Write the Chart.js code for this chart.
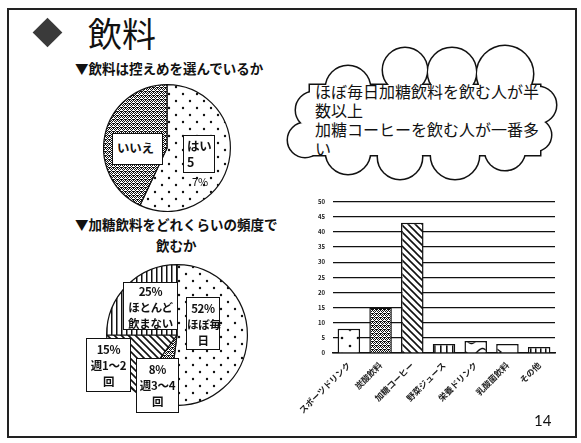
<!DOCTYPE html>
<html>
<head>
<meta charset="utf-8">
<script src="https://cdn.jsdelivr.net/npm/chart.js@4"></script>
<style>
  body { margin:0; background:#fff; }
  #slide { position:relative; width:581px; height:443px; overflow:hidden; background:#fff;
           font-family:"Noto Sans CJK JP", sans-serif; color:#111; }
  .abs { position:absolute; white-space:nowrap; }
  .box { position:absolute; background:#fff; border:1.3px solid #111; box-sizing:border-box; white-space:nowrap;
         font-weight:bold; font-size:11.5px; line-height:16px; text-align:center; letter-spacing:-0.3px; }
  canvas { position:absolute; }
</style>
</head>
<body>
<div id="slide">
  <div class="abs" style="left:7px;top:8px;width:570px;height:430px;border:2px solid #222;box-sizing:border-box;"></div>
  <div class="abs" style="left:37px;top:22px;width:21px;height:21px;background:#3a3a3a;transform:rotate(45deg);"></div>
  <div class="abs" style="left:88px;top:11px;font-size:34px;line-height:44px;">飲料</div>
  <div class="abs" style="left:75px;top:58px;font-size:13.5px;font-weight:bold;line-height:20px;">▼飲料は控えめを選んでいるか</div>
  <div class="abs" style="left:75px;top:214px;font-size:13.5px;font-weight:bold;line-height:20px;">▼加糖飲料をどれくらいの頻度で</div>
  <div class="abs" style="left:156px;top:235px;font-size:13.5px;font-weight:bold;line-height:20px;">飲むか</div>

  <svg class="abs" style="left:0;top:0" width="581" height="443">
    <g id="cloud-out" fill="#fff" stroke="#111" stroke-width="3"></g>
    <g id="cloud-in" fill="#fff"></g>
  </svg>
  <div class="abs" style="left:315px;top:82px;font-size:16px;line-height:19px;">ほぼ毎日加糖飲料を飲む人が半<br>数以上<br>加糖コーヒーを飲む人が一番多<br>い</div>

  <canvas id="pie1" width="128" height="128" style="left:103px;top:84px"></canvas>
  <canvas id="pie2" width="142" height="142" style="left:106px;top:264px"></canvas>
  <canvas id="bars" width="276" height="245" style="left:290px;top:190px"></canvas>

  <div class="box" style="left:112px;top:133px;width:51px;height:32px;line-height:28px;text-align:left;padding-left:4px;font-size:12.5px;">いいえ</div>
  <div class="box" style="left:183px;top:135px;width:32px;height:38px;text-align:left;padding-left:3px;padding-top:2px;font-size:12.5px;">はい<br>5</div>
  <div class="abs" style="left:192px;top:174px;font-size:11px;line-height:14px;">7%</div>

  <div class="box" style="left:123px;top:282px;width:55px;height:48px;">25%<br>ほとんど<br>飲まない</div>
  <div class="box" style="left:186px;top:297px;width:34px;height:53px;padding-top:2px;">52%<br>ほぼ毎<br>日</div>
  <div class="box" style="left:86px;top:338px;width:45px;height:54px;padding-top:2px;">15%<br>週1～2<br>回</div>
  <div class="box" style="left:136px;top:358px;width:43px;height:55px;padding-top:2px;">8%<br>週3～4<br>回</div>

  <div class="abs" style="left:534px;top:410px;font-family:Lato, sans-serif;font-size:15px;line-height:20px;">14</div>
</div>

<script>
// data
const q1Labels = ['はい', 'いいえ'];
const q1Values = [57, 43];

const q2Labels = ['ほぼ毎日', '週3～4回', '週1～2回', 'ほとんど飲まない'];
const q2Values = [52, 8, 15, 25];

const drinks = ['スポーツドリンク', '炭酸飲料', '加糖コーヒー', '野菜ジュース', '栄養ドリンク', '乳酸菌飲料', 'その他'];
const drinkCounts = [8, 15, 43, 3, 4, 3, 2];
const yTicks = [0, 50, 5];

// cloud bubble
const bumps = [[314,110,18],[305,140,17],[348,88,22],[405,70,22],[452,72,24],[505,74,28],
               [538,105,18],[535,135,16],[505,150,20],[455,155,24],[400,157,22],[348,152,22]];
const ns = 'http://www.w3.org/2000/svg';
['cloud-out','cloud-in'].forEach(function(id){
  const g = document.getElementById(id);
  bumps.forEach(function(b){
    const c = document.createElementNS(ns, 'circle');
    c.setAttribute('cx', b[0]); c.setAttribute('cy', b[1]); c.setAttribute('r', b[2]);
    g.appendChild(c);
  });
  const r = document.createElementNS(ns, 'rect');
  r.setAttribute('x', 310); r.setAttribute('y', 85); r.setAttribute('width', 230); r.setAttribute('height', 70);
  g.appendChild(r);
});

// hatch fills
const helper = document.createElement('canvas').getContext('2d');
function makePattern(w, h, draw){
  const c = document.createElement('canvas');
  c.width = w; c.height = h;
  const x = c.getContext('2d');
  x.fillStyle = '#fff'; x.fillRect(0, 0, w, h);
  x.fillStyle = '#111'; x.strokeStyle = '#111';
  draw(x, w, h);
  return helper.createPattern(c, 'repeat');
}
const dots = makePattern(14, 14, function(x){
  x.beginPath(); x.arc(3, 3, 1.2, 0, 7); x.fill();
  x.beginPath(); x.arc(10, 10, 1.2, 0, 7); x.fill();
});
const sparseDots = makePattern(16, 16, function(x){
  x.beginPath(); x.arc(4, 4, 1.3, 0, 7); x.fill();
  x.beginPath(); x.arc(12, 12, 1.3, 0, 7); x.fill();
});
const cross = makePattern(4, 4, function(x){
  x.fillRect(0, 0, 1, 1); x.fillRect(2, 0, 1, 1); x.fillRect(1, 1, 1, 1);
  x.fillRect(3, 1, 1, 1); x.fillRect(0, 2, 1, 1); x.fillRect(1, 3, 2, 1);
  x.fillRect(3, 3, 1, 1);
});
const diag = makePattern(7, 7, function(x){
  x.lineWidth = 1.6;
  x.beginPath(); x.moveTo(-1, -1); x.lineTo(8, 8);
  x.moveTo(-1, 6); x.lineTo(1, 8); x.moveTo(6, -1); x.lineTo(8, 1); x.stroke();
});
const vert = makePattern(5, 5, function(x){ x.fillRect(0, 0, 1.5, 5); });
const vertWide = makePattern(6, 6, function(x){ x.fillRect(0, 0, 1.6, 6); });
const wave = makePattern(22, 12, function(x){
  x.lineWidth = 1.4; x.beginPath();
  for (let i = 0; i <= 22; i++) { const yy = 6 + 3.5 * Math.sin(i / 22 * Math.PI * 2); i ? x.lineTo(i, yy) : x.moveTo(i, yy); }
  x.stroke();
});
const chevron = makePattern(22, 12, function(x){
  x.lineWidth = 1.3; x.beginPath(); x.moveTo(9, 3); x.lineTo(13, 6); x.lineTo(9, 9); x.stroke();
});
const bricks = makePattern(5, 8, function(x){ x.fillRect(0, 0, 1.5, 8); });

Chart.defaults.font.family = '"Noto Sans CJK JP", sans-serif';
Chart.defaults.color = '#222';
Chart.defaults.animation = false;
Chart.defaults.plugins.legend.display = false;
Chart.defaults.plugins.tooltip.enabled = false;

new Chart(document.getElementById('pie1'), {
  type: 'pie',
  data: { labels: q1Labels, datasets: [{ data: q1Values, backgroundColor: [dots, cross], borderColor: '#111', borderWidth: 1.2 }] },
  options: { responsive: false, devicePixelRatio: 1 }
});

new Chart(document.getElementById('pie2'), {
  type: 'pie',
  data: { labels: q2Labels, datasets: [{ data: q2Values, backgroundColor: [dots, cross, diag, vert], borderColor: '#111', borderWidth: 1.2 }] },
  options: { responsive: false, devicePixelRatio: 1 }
});

new Chart(document.getElementById('bars'), {
  type: 'bar',
  data: {
    labels: drinks,
    datasets: [{
      data: drinkCounts,
      backgroundColor: [sparseDots, cross, diag, vertWide, wave, chevron, bricks],
      borderColor: '#111',
      borderWidth: 1.5,
      categoryPercentage: 1,
      barPercentage: 0.71
    }]
  },
  options: {
    responsive: false,
    devicePixelRatio: 1,
    layout: { padding: { top: 9, right: 11, left: 0, bottom: 0 } },
    scales: {
      x: {
        grid: { display: false, drawOnChartArea: false, drawTicks: false },
        border: { display: true, color: '#111', width: 1.5 },
        ticks: { autoSkip: false, maxRotation: 45, minRotation: 45, padding: 7, font: { size: 8.5, weight: 'bold' } },
        afterFit: function(s){ s.height = 82; }
      },
      y: {
        min: yTicks[0], max: yTicks[1],
        grid: { color: '#111', lineWidth: 1.2, drawTicks: false },
        border: { display: false },
        ticks: { stepSize: yTicks[2], padding: 8, font: { size: 6, weight: 'bold' } },
        afterFit: function(s){ s.width = 43; }
      }
    }
  }
});
</script>
</body>
</html>
